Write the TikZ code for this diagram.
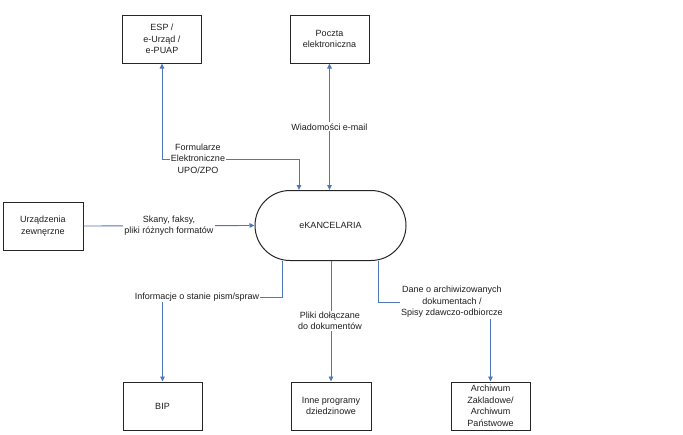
\documentclass[tikz,border=0pt]{standalone}
\usepackage{fontspec}
\setmainfont{Liberation Sans}
\usetikzlibrary{arrows.meta,calc}
\definecolor{connblue}{RGB}{79,120,185}
\definecolor{txt}{RGB}{30,30,30}
\begin{document}
\begin{tikzpicture}[x=1pt,y=-1pt,
  font=\fontsize{9}{11.5}\selectfont, text=txt,
  box/.style={draw=black!85, line width=1pt, minimum width=79pt, minimum height=48pt, align=center, inner sep=1pt},
  stadium/.style={draw=black!85, line width=1pt, rounded corners=35pt, minimum width=151pt, minimum height=70pt, align=center},
  conn/.style={draw=connblue, line width=0.9pt},
  tip/.tip={Triangle[length=5pt,width=4.5pt]},
  lbl/.style={fill=white, align=center, inner sep=1pt}]
\useasboundingbox (0,0) rectangle (683,434);

\node[box] (esp) at (162,39) {ESP /\\e-Urząd /\\e-PUAP};
\node[box] (poczta) at (329.5,39) {Poczta\\elektroniczna};
\node[box, minimum width=80pt] (urz) at (43,226) {Urządzenia\\zewnęrzne};
\node[stadium] (ekan) at (330.5,225.5) {eKANCELARIA};
\node[box] (bip) at (162.5,406) {BIP};
\node[box, minimum width=80pt] (inne) at (331,406) {Inne programy\\dziedzinowe};
\node[box] (arch) at (490.5,406) {Archiwum\\Zakladowe/\\Archiwum\\Państwowe};

% ESP <-> eKANCELARIA
\draw[conn,{tip}-{tip}] (esp.south) -- ++(0,96) -| ([xshift=-31.5pt]ekan.north);
\node[lbl, inner sep=0.5pt] (lform) at (198,158.5) {Formularze\\Elektroniczne\\UPO/ZPO};

% Poczta <-> eKANCELARIA
\draw[conn,{tip}-{tip}] (poczta.south) -- (poczta.south |- ekan.north)
  node[lbl, pos=0.5] (lmail) {Wiadomości e-mail};

% Urządzenia -> eKANCELARIA
\draw[conn,-{tip}] (urz.east) -- (ekan.west)
  node[lbl, midway] (lskan) {Skany, faksy,\\pliki różnych formatów};

% eKANCELARIA -> BIP
\draw[conn,-{tip}] ([xshift=-48.5pt]ekan.south) -- ++(0,36) -| (bip.north);
\node[lbl] (linfo) at (197,297) {Informacje o stanie pism/spraw};

% eKANCELARIA -> Inne programy
\draw[conn,-{tip}] (ekan.south -| inne.north) -- (inne.north);
\node[lbl] (lpliki) at (330,321) {Pliki dołączane\\do dokumentów};

% eKANCELARIA -> Archiwum
\draw[conn,-{tip}] ([xshift=47.5pt]ekan.south) -- ++(0,41) -| (arch.north);
\node[lbl] (ldane) at (452,302) {Dane o archiwizowanych\\dokumentach /\\Spisy zdawczo-odbiorcze};
\end{tikzpicture}
\end{document}
